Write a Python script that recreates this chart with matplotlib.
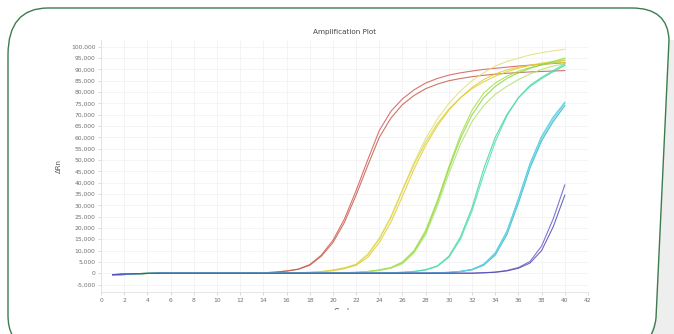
import numpy as np
import matplotlib.pyplot as plt
from matplotlib.path import Path
from matplotlib.patches import PathPatch, Polygon, Rectangle

# cycle numbers and delta Rn values (in thousands)
cycles = list(range(1, 41))

red_a = [-0.9, -0.6, -0.3, -0.1, 0, 0, 0, 0, 0, 0, 0, 0, 0.1, 0.2, 0.5, 1.0, 1.8, 3.8, 8.0, 14.5,
         24, 36.5, 50, 63, 71.5, 77, 81, 84, 86, 87.5, 88.5, 89.3, 90, 90.5, 91, 91.5, 91.9, 92.3, 92.6, 93]
red_b = [-1.0, -0.6, -0.3, -0.1, 0, 0, 0, 0, 0, 0, 0, 0, 0.1, 0.2, 0.4, 0.9, 1.7, 3.5, 7.5, 13.5,
         22.5, 34.5, 47.5, 60, 68.5, 74.5, 78.5, 81.5, 83.5, 85, 86, 86.8, 87.4, 87.9, 88.3, 88.6, 88.9, 89.1, 89.3, 89.5]

yellow_a = [-0.8, -0.5, -0.2, -0.1, 0, 0, 0, 0, 0, 0, 0, 0, 0, 0, 0, 0.1, 0.2, 0.4, 0.8, 1.4,
            2.4, 4.0, 8.5, 15.5, 25, 37, 49, 59.5, 68, 75, 80.5, 85, 88.5, 91.5, 93.5, 95, 96.4, 97.4, 98.2, 98.9]
yellow_b = [-0.8, -0.5, -0.2, -0.1, 0, 0, 0, 0, 0, 0, 0, 0, 0, 0, 0, 0.1, 0.2, 0.4, 0.7, 1.3,
            2.3, 3.8, 8.0, 15, 24.5, 36.5, 48, 58, 66, 72.5, 77.5, 81.5, 84.5, 87, 89, 90.5, 91.8, 92.8, 93.5, 94.2]
yellow_c = [-0.9, -0.5, -0.2, -0.1, 0, 0, 0, 0, 0, 0, 0, 0, 0, 0, 0, 0.1, 0.2, 0.3, 0.6, 1.1,
            2.0, 3.5, 7.0, 13.5, 22.5, 34, 46, 56.5, 65, 72, 77.5, 82, 85.5, 88, 89.8, 91, 91.8, 92.4, 92.8, 93.2]

green_a = [-0.8, -0.5, -0.2, -0.1, 0, 0, 0, 0, 0, 0, 0, 0, 0, 0, 0, 0, 0, 0, 0, 0,
           0.2, 0.4, 0.8, 1.5, 2.5, 5.0, 10, 19, 32, 47, 61, 72, 79.5, 84, 87, 89.2, 90.8, 92, 93, 94]
green_b = [-0.8, -0.5, -0.2, -0.1, 0, 0, 0, 0, 0, 0, 0, 0, 0, 0, 0, 0, 0, 0, 0, 0,
           0.2, 0.4, 0.7, 1.3, 2.3, 4.5, 9.5, 18, 31, 46, 59.5, 70, 77.5, 82.5, 86, 88.5, 90.5, 92, 93.5, 95]
green_c = [-0.8, -0.5, -0.2, -0.1, 0, 0, 0, 0, 0, 0, 0, 0, 0, 0, 0, 0, 0, 0, 0, 0,
           0.2, 0.3, 0.6, 1.2, 2.2, 4.2, 9.0, 17, 29.5, 44, 57, 67, 74, 79, 82.5, 85.5, 88, 90, 91.5, 92.5]

teal_a = [-0.7, -0.4, -0.2, -0.1, 0, 0, 0, 0, 0, 0, 0, 0, 0, 0, 0, 0, 0, 0, 0, 0,
          0, 0, 0, 0, 0.2, 0.4, 0.8, 1.6, 3.2, 7.5, 16, 29, 46, 60, 70, 77.5, 82.5, 86, 89, 91.8]
teal_b = [-0.7, -0.4, -0.2, -0.1, 0, 0, 0, 0, 0, 0, 0, 0, 0, 0, 0, 0, 0, 0, 0, 0,
          0, 0, 0, 0, 0.2, 0.4, 0.7, 1.4, 3.0, 7.0, 15, 27.5, 43.5, 58, 69.5, 77.5, 83, 86.5, 89.5, 92.5]

cyan_a = [-0.7, -0.4, -0.2, -0.1, 0, 0, 0, 0, 0, 0, 0, 0, 0, 0, 0, 0, 0, 0, 0, 0,
          0, 0, 0, 0, 0, 0, 0, 0, 0.2, 0.4, 0.8, 1.7, 4.0, 9.0, 18.5, 33, 48.5, 60.5, 69, 75.5]
cyan_b = [-0.7, -0.4, -0.2, -0.1, 0, 0, 0, 0, 0, 0, 0, 0, 0, 0, 0, 0, 0, 0, 0, 0,
          0, 0, 0, 0, 0, 0, 0, 0, 0.2, 0.3, 0.7, 1.5, 3.5, 8.0, 17, 31, 46.5, 58.5, 67, 74]
cyan_c = [-0.7, -0.4, -0.2, -0.1, 0, 0, 0, 0, 0, 0, 0, 0, 0, 0, 0, 0, 0, 0, 0, 0,
          0, 0, 0, 0, 0, 0, 0, 0, 0.2, 0.4, 0.8, 1.6, 3.8, 8.5, 18, 32, 47.5, 59.5, 68, 75]

purple_a = [-0.6, -0.4, -0.2, -0.1, 0, 0, 0, 0, 0, 0, 0, 0, 0, 0, 0, 0, 0, 0, 0, 0,
            0, 0, 0, 0, 0, 0, 0, 0, 0, 0, 0, 0, 0.2, 0.5, 1.2, 2.5, 5.2, 12, 24, 39]
purple_b = [-0.6, -0.4, -0.2, -0.1, 0, 0, 0, 0, 0, 0, 0, 0, 0, 0, 0, 0, 0, 0, 0, 0,
            0, 0, 0, 0, 0, 0, 0, 0, 0, 0, 0, 0, 0.2, 0.4, 1.0, 2.2, 4.5, 10, 20.5, 34.5]

series = [
    (red_a, '#d45a5a'), (red_b, '#c0604a'),
    (yellow_a, '#e2e07a'), (yellow_b, '#d8d634'), (yellow_c, '#e6c83a'),
    (green_a, '#a6e03e'), (green_b, '#86d840'), (green_c, '#b4e070'),
    (teal_a, '#3ed898'), (teal_b, '#50dcb0'),
    (cyan_a, '#3ec6d8'), (cyan_b, '#2eb0cc'), (cyan_c, '#62d6e2'),
    (purple_a, '#6a5acd'), (purple_b, '#5050b0'),
]

W, H = 674, 334


def px(x, y):
    return (x / W, 1 - y / H)


fig = plt.figure(figsize=(W / 100, H / 100), dpi=100)

# grey shadow at the right of the card
shadow = Polygon([px(669, 40), px(680, 40), px(680, 340), px(648, 340), px(656, 318)],
                 closed=True, transform=fig.transFigure, facecolor='#eeeeee', edgecolor='none', zorder=0)
fig.patches.append(shadow)

# rounded green card outline
verts = [px(25, 345), px(8, 340), px(8, 315), px(8, 55), px(8, 8), px(48, 8), px(632, 8),
         px(668, 8), px(669, 40), px(656, 318), px(653, 345), px(630, 350)]
codes = [Path.MOVETO, Path.CURVE3, Path.CURVE3, Path.LINETO, Path.CURVE3, Path.CURVE3, Path.LINETO,
         Path.CURVE3, Path.CURVE3, Path.LINETO, Path.CURVE3, Path.CURVE3]
card = PathPatch(Path(verts, codes), transform=fig.transFigure, facecolor='none',
                 edgecolor='#3c7c4e', linewidth=1.0, zorder=1)
fig.patches.append(card)

ax = fig.add_axes([101 / W, 1 - 292 / H, (588 - 101) / W, (292 - 40) / H])
ax.set_facecolor('none')

for vals, color in series:
    ax.plot(cycles, np.array(vals) * 1000, color=color, linewidth=0.8, alpha=0.85)

ax.set_xlim(0, 42)
ax.set_ylim(-8300, 103000)
ax.set_xticks(range(0, 43, 2))
ax.set_yticks(range(-5000, 100001, 5000))
ax.set_yticklabels([f'{v:,}' for v in range(-5000, 100001, 5000)])
ax.tick_params(axis='both', labelsize=4.3, colors='#cccccc', labelcolor='#707070', length=2, width=0.5, pad=2)
ax.grid(True, color='#f3f3f3', linewidth=0.6)
ax.set_axisbelow(True)
for side in ['top', 'right']:
    ax.spines[side].set_visible(False)
for side in ['left', 'bottom']:
    ax.spines[side].set_color('#e0e0e0')
    ax.spines[side].set_linewidth(0.6)

ax.set_title('Amplification Plot', fontsize=5.2, color='#444444', pad=4)
ax.set_ylabel('ΔRn', fontsize=5, color='#555555')
ax.yaxis.set_label_coords(-0.08, 0.5)
ax.set_xlabel('Cycle', fontsize=5.5, color='#555555')
ax.xaxis.set_label_coords(0.5, -0.065)

# the screenshot of the chart is cut just under the axis label
cut = Rectangle(px(250, 324), 200 / W, 14 / H, transform=fig.transFigure,
                facecolor='white', edgecolor='none', zorder=5)
fig.patches.append(cut)

fig.savefig('out.png', dpi=100)
